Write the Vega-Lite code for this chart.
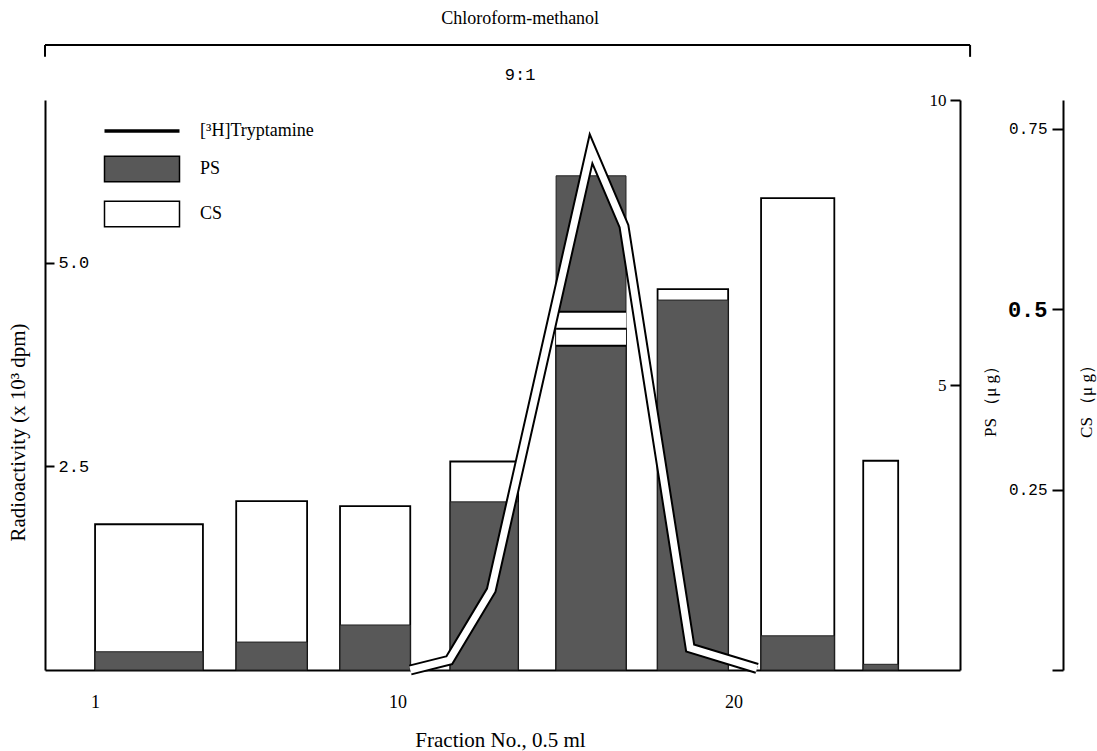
{
  "$schema": "https://vega.github.io/schema/vega-lite/v6.json",
  "width": 915,
  "height": 570,
  "autosize": "none",
  "padding": {"left": 45, "top": 100, "right": 137, "bottom": 81},
  "background": "white",
  "config": {
    "view": {"stroke": null},
    "axis": {
      "grid": false,
      "zindex": 1,
      "domainColor": "black",
      "domainWidth": 2,
      "tickColor": "black",
      "tickWidth": 2,
      "labelColor": "black",
      "titleColor": "black",
      "titleFontWeight": "normal",
      "labelFont": "Liberation Serif",
      "titleFont": "Liberation Serif"
    }
  },
  "datasets": {
    "bars": [
      {"start": 1.0, "end": 4.21, "ps": 0.32, "cs": 0.202},
      {"start": 5.2, "end": 7.31, "ps": 0.49, "cs": 0.234},
      {"start": 8.29, "end": 10.38, "ps": 0.79, "cs": 0.227},
      {"start": 11.57, "end": 13.59, "ps": 2.95, "cs": 0.289},
      {"start": 14.72, "end": 16.8, "ps": 8.67, "cs": 0.473},
      {"start": 17.74, "end": 19.84, "ps": 6.49, "cs": 0.528},
      {"start": 20.82, "end": 23.0, "ps": 0.6, "cs": 0.654},
      {"start": 23.86, "end": 24.9, "ps": 0.1, "cs": 0.29}
    ],
    "tryptamine": [
      {"fraction": 10.38, "radio": 0.0},
      {"fraction": 11.54, "radio": 0.12},
      {"fraction": 12.79, "radio": 0.98},
      {"fraction": 15.76, "radio": 6.4},
      {"fraction": 16.74, "radio": 5.45},
      {"fraction": 18.71, "radio": 0.27},
      {"fraction": 20.7, "radio": 0.02}
    ],
    "solvent": [
      {"fraction": -0.49},
      {"fraction": 27.04}
    ]
  },
  "layer": [
    {
      "data": {"name": "bars"},
      "mark": {"type": "rect", "fill": "white", "stroke": "black", "strokeWidth": 1.8},
      "encoding": {
        "x": {
          "field": "start",
          "type": "quantitative",
          "scale": {"domain": [-0.49, 26.74], "nice": false, "zero": false},
          "axis": {
            "orient": "bottom",
            "values": [1, 10, 20],
            "ticks": false,
            "labelPadding": 23,
            "labelFontSize": 18,
            "title": "Fraction No., 0.5 ml",
            "titleFontSize": 21,
            "titleX": 455,
            "titleY": 70,
            "titleAlign": "center",
            "titleBaseline": "middle"
          }
        },
        "x2": {"field": "end"},
        "y": {
          "field": "cs",
          "type": "quantitative",
          "scale": {"domain": [0, 0.79], "nice": false},
          "axis": {
            "orient": "right",
            "offset": 103,
            "values": [0, 0.25, 0.5, 0.75],
            "labelExpr": "datum.value == 0 ? '' : '' + datum.value",
            "tickSize": -11,
            "labelPadding": -5,
            "labelAlign": "right",
            "labelBaseline": "middle",
            "labelFont": "Liberation Mono",
            "labelFontSize": {"condition": {"test": "datum.value == 0.5", "value": 22}, "value": 16},
            "labelFontWeight": {"condition": {"test": "datum.value == 0.5", "value": "bold"}, "value": "normal"},
            "title": "CS （μ g）",
            "titleFontSize": 17,
            "titleAngle": 270,
            "titleX": 23,
            "titleY": 297,
            "titleAlign": "center",
            "titleBaseline": "middle"
          }
        },
        "y2": {"datum": 0}
      }
    },
    {
      "data": {"name": "bars"},
      "mark": {"type": "rect", "stroke": "#222222", "strokeWidth": 1},
      "encoding": {
        "x": {"field": "start", "type": "quantitative"},
        "x2": {"field": "end"},
        "y": {
          "field": "ps",
          "type": "quantitative",
          "scale": {"domain": [0, 10], "nice": false},
          "axis": {
            "orient": "right",
            "values": [5, 10],
            "format": "d",
            "tickSize": -10,
            "labelPadding": -4,
            "labelAlign": "right",
            "labelBaseline": "middle",
            "labelFontSize": 17,
            "title": "PS （μ g）",
            "titleFontSize": 17,
            "titleAngle": 270,
            "titleX": 30,
            "titleY": 297,
            "titleAlign": "center",
            "titleBaseline": "middle"
          }
        },
        "y2": {"datum": 0},
        "fill": {
          "datum": "PS",
          "type": "nominal",
          "scale": {"domain": ["[³H]Tryptamine", "PS", "CS"], "range": ["black", "#585858", "white"]},
          "legend": {
            "orient": "none",
            "legendX": 88,
            "legendY": 22,
            "title": null,
            "padding": 0,
            "symbolType": "M-1,-0.34H1V0.34H-1Z",
            "symbolSize": 5625,
            "symbolStrokeColor": "black",
            "symbolStrokeWidth": 1.5,
            "symbolOpacity": 1,
            "labelFont": "Liberation Serif",
            "labelFontSize": 18,
            "labelColor": "black",
            "labelOffset": 49,
            "rowPadding": 13,
            "encode": {
              "symbols": {
                "update": {
                  "shape": {"signal": "datum.value === '[³H]Tryptamine' ? 'M-1,0H1' : 'M-1,-0.34H1V0.34H-1Z'"},
                  "strokeWidth": {"signal": "datum.value === '[³H]Tryptamine' ? 3.5 : 1.5"},
                  "stroke": {"value": "black"}
                }
              }
            }
          }
        }
      }
    },
    {
      "data": {"name": "bars"},
      "transform": [{"filter": "datum.cs / 0.79 < datum.ps / 10"}],
      "encoding": {
        "x": {"field": "start", "type": "quantitative"},
        "x2": {"field": "end"},
        "y": {"field": "cs", "type": "quantitative", "scale": {"domain": [0, 0.79], "nice": false}, "axis": null}
      },
      "layer": [
        {"mark": {"type": "rule", "stroke": "black", "strokeWidth": 36}},
        {"mark": {"type": "rule", "stroke": "white", "strokeWidth": 32}},
        {"mark": {"type": "rule", "stroke": "black", "strokeWidth": 2}}
      ]
    },
    {
      "layer": [
        {
          "data": {"name": "tryptamine"},
          "mark": {"type": "line", "stroke": "black", "strokeWidth": 11, "strokeJoin": "miter"},
          "encoding": {
            "x": {"field": "fraction", "type": "quantitative"},
            "y": {
              "field": "radio",
              "type": "quantitative",
              "scale": {"domain": [0, 7], "nice": false},
              "axis": {
                "orient": "left",
                "values": [2.5, 5],
                "format": ".1f",
                "tickSize": -9,
                "labelPadding": -4,
                "labelAlign": "left",
                "labelBaseline": "middle",
                "labelFont": "Liberation Mono",
                "labelFontSize": 17,
                "title": "Radioactivity (x 10³ dpm)",
                "titleFontSize": 21,
                "titleAngle": 270,
                "titleX": -27,
                "titleY": 332,
                "titleAlign": "center",
                "titleBaseline": "middle"
              }
            }
          }
        },
        {
          "data": {"name": "tryptamine"},
          "mark": {"type": "line", "stroke": "white", "strokeWidth": 7, "strokeJoin": "miter"},
          "encoding": {
            "x": {"field": "fraction", "type": "quantitative"},
            "y": {"field": "radio", "type": "quantitative"}
          }
        },
        {
          "data": {"name": "solvent"},
          "mark": {"type": "rule", "stroke": "black", "strokeWidth": 2},
          "encoding": {
            "x": {"field": "fraction", "type": "quantitative"},
            "y": {"datum": 7.675, "type": "quantitative"},
            "y2": {"datum": 7.53}
          }
        },
        {
          "data": {"values": [{}]},
          "mark": {"type": "rule", "stroke": "black", "strokeWidth": 2},
          "encoding": {
            "x": {"datum": -0.49, "type": "quantitative"},
            "x2": {"datum": 27.04},
            "y": {"datum": 7.675, "type": "quantitative"}
          }
        },
        {
          "data": {"values": [{}]},
          "mark": {"type": "text", "text": "Chloroform-methanol", "font": "Liberation Serif", "fontSize": 18, "baseline": "middle", "align": "center", "color": "black"},
          "encoding": {
            "x": {"datum": 13.65, "type": "quantitative"},
            "y": {"datum": 8.0, "type": "quantitative"}
          }
        },
        {
          "data": {"values": [{}]},
          "mark": {"type": "text", "text": "9:1", "font": "Liberation Mono", "fontSize": 17, "baseline": "middle", "align": "center", "color": "black"},
          "encoding": {
            "x": {"datum": 13.65, "type": "quantitative"},
            "y": {"datum": 7.31, "type": "quantitative"}
          }
        }
      ]
    }
  ],
  "resolve": {"scale": {"y": "independent"}, "axis": {"y": "independent"}}
}
